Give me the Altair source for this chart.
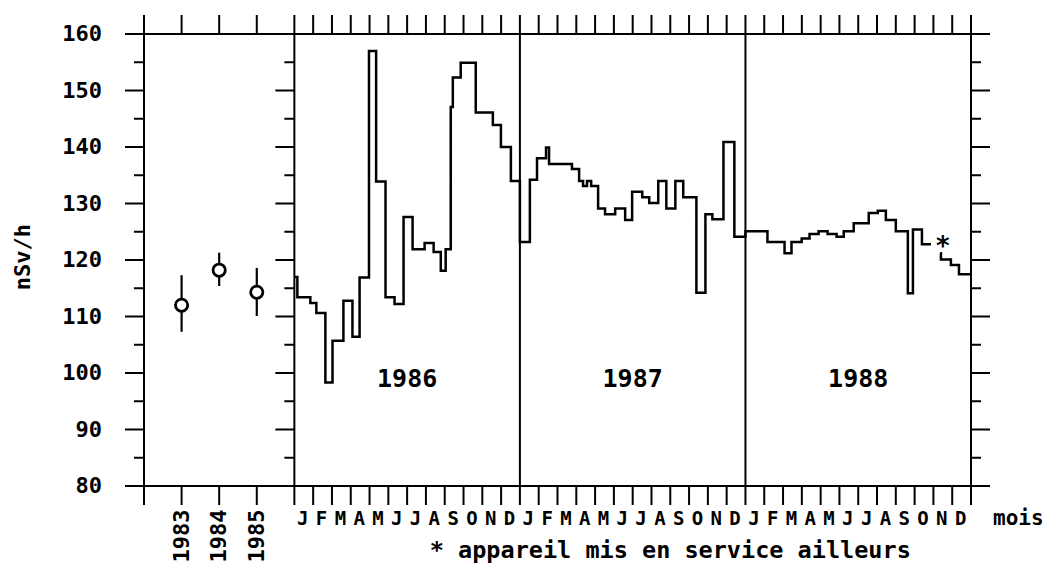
import altair as alt
import pandas as pd

# ---------------- data ----------------
y_major = [80, 90, 100, 110, 120, 130, 140, 150, 160]
y_minor = [85, 95, 105, 115, 125, 135, 145, 155]
x_ticks = [-8, -6, -4, -2] + list(range(0, 37))
dividers = [0, 12, 24]

month_letters = ["J", "F", "M", "A", "M", "J", "J", "A", "S", "O", "N", "D"]
year_text = ["1986", "1987", "1988"]
year_text_x = [6, 18, 30]
year_text_y = [99, 99, 99]

prior_years = ["1983", "1984", "1985"]
prior_x = [-6, -4, -2]
prior_val = [112.0, 118.2, 114.3]
prior_lo = [107.3, 115.4, 110.1]
prior_hi = [117.3, 121.3, 118.6]

# monthly step series (months since Jan 1986)
t86 = [0.00, 0.16, 0.85, 1.17, 1.65, 2.03, 2.61, 3.09, 3.47, 3.97, 4.35, 4.85, 5.33,
       5.81, 6.29, 6.93, 7.41, 7.79, 8.05, 8.32, 8.43, 8.85, 9.65, 10.56, 10.99, 11.52]
v86 = [117.0, 113.4, 112.4, 110.6, 98.3, 105.7, 112.8, 106.4, 116.9, 157.0, 133.9, 113.4, 112.2,
       127.6, 121.9, 123.0, 121.4, 118.1, 121.9, 147.1, 152.3, 154.9, 146.1, 143.9, 140.0, 134.0]
t87 = [12.00, 12.53, 12.91, 13.39, 13.55, 14.77, 15.15, 15.36, 15.57, 15.79, 16.16, 16.53, 17.07,
       17.60, 17.97, 18.51, 18.88, 19.36, 19.79, 20.27, 20.69, 21.39, 21.87, 22.24, 22.83, 23.41]
v87 = [123.2, 134.2, 138.0, 139.9, 137.0, 136.1, 134.0, 133.1, 134.0, 133.1, 129.1, 128.1, 129.1,
       127.1, 132.1, 131.1, 130.1, 134.0, 129.1, 134.0, 131.1, 114.2, 128.1, 127.2, 140.9, 124.1]
t88a = [24.00, 25.17, 26.08, 26.45, 26.99, 27.41, 27.89, 28.37, 28.85, 29.23, 29.76, 30.56,
        31.04, 31.47, 32.00, 32.64, 32.91, 33.39, 33.87]
v88a = [125.1, 123.2, 121.2, 123.2, 123.8, 124.6, 125.1, 124.6, 124.1, 125.1, 126.5, 128.3,
        128.7, 127.1, 125.1, 114.1, 125.4, 122.8, 122.8]
t88b = [34.36, 34.40, 34.93, 35.36, 36.00]
v88b = [121.2, 120.1, 119.1, 117.5, 117.5]

star_x = [34.5]
star_y = [123.4]

y_title = "nSv/h"
x_unit = "mois"
footnote = "* appareil mis en service ailleurs"

# ---------------- chart ----------------
FONT = "DejaVu Sans Mono"
X = alt.Scale(domain=[-8, 36], nice=False, zero=False)
Y = alt.Scale(domain=[80, 160], nice=False, zero=False)


def xf(field):
    return alt.X(field, type="quantitative", scale=X, axis=None)


def yf(field):
    return alt.Y(field, type="quantitative", scale=Y, axis=None)


def xd(v):
    return alt.XDatum(v, type="quantitative", scale=X, axis=None)


def yd(v):
    return alt.YDatum(v, type="quantitative", scale=Y, axis=None)


line_df = pd.DataFrame({
    "t": t86 + t87 + t88a + t88b,
    "v": v86 + v87 + v88a + v88b,
    "seg": ["a"] * (len(t86) + len(t87) + len(t88a)) + ["b"] * len(t88b),
})
line = alt.Chart(line_df).mark_line(
    interpolate="step-after", color="black", strokeWidth=2.5
).encode(x=xf("t"), y=yf("v"), detail="seg:N")

div = alt.Chart(pd.DataFrame({"x": dividers})).mark_rule(
    color="black", strokeWidth=2
).encode(x=xf("x"))

ymaj_df = pd.DataFrame({"v": y_major})
ymin_df = pd.DataFrame({"v": y_minor})
xt_df = pd.DataFrame({"x": x_ticks})


def hticks(df, xpos, size, off):
    return alt.Chart(df).mark_tick(
        orient="horizontal", size=size, thickness=2, color="black", xOffset=off, opacity=1
    ).encode(x=xd(xpos), y=yf("v"))


def vticks(ypos, off):
    return alt.Chart(xt_df).mark_tick(
        orient="vertical", size=19, thickness=2, color="black", yOffset=off, opacity=1
    ).encode(x=xf("x"), y=yd(ypos))


ticks = [
    hticks(ymaj_df, -8, 19, -9.5), hticks(ymin_df, -8, 10, -5),
    hticks(ymaj_df, 0, 19, -9.5), hticks(ymin_df, 0, 10, -5),
    hticks(ymaj_df, 36, 19, 9.5), hticks(ymin_df, 36, 10, 5),
    vticks(160, -9.5), vticks(80, 9.5),
]

ylab = alt.Chart(pd.DataFrame({"v": y_major, "lab": [str(v) for v in y_major]})).mark_text(
    font=FONT, fontSize=22, fontWeight="bold", align="right", baseline="middle",
    xOffset=-42, color="black"
).encode(x=xd(-8), y=yf("v"), text="lab:N")

ytitle = alt.Chart(pd.DataFrame({"t": [y_title]})).mark_text(
    font=FONT, fontSize=22, fontWeight="bold", angle=270, align="center",
    baseline="middle", xOffset=-121, color="black"
).encode(x=xd(-8), y=yd(120.5), text="t:N")

mdf = pd.DataFrame({
    "x": [i + 0.5 for i in range(36)],
    "lab": [month_letters[i % 12] for i in range(36)],
})
mlab = alt.Chart(mdf).mark_text(
    font=FONT, fontSize=19, fontWeight="bold", align="center", baseline="middle",
    yOffset=33, xOffset=-1, color="black"
).encode(x=xf("x"), y=yd(80), text="lab:N")

plab = alt.Chart(pd.DataFrame({"x": prior_x, "lab": prior_years})).mark_text(
    font=FONT, fontSize=22, fontWeight="bold", angle=270, align="center",
    baseline="middle", yOffset=50, color="black"
).encode(x=xf("x"), y=yd(80), text="lab:N")

unit = alt.Chart(pd.DataFrame({"t": [x_unit]})).mark_text(
    font=FONT, fontSize=21, fontWeight="bold", align="left", baseline="middle",
    xOffset=22, yOffset=33, color="black"
).encode(x=xd(36), y=yd(80), text="t:N")

foot = alt.Chart(pd.DataFrame({"t": [footnote]})).mark_text(
    font=FONT, fontSize=23.5, fontWeight="bold", align="center", baseline="alphabetic",
    yOffset=72, color="black"
).encode(x=xd(20), y=yd(80), text="t:N")

yrs = alt.Chart(pd.DataFrame({"x": year_text_x, "y": year_text_y, "t": year_text})).mark_text(
    font=FONT, fontSize=25, fontWeight="bold", align="center", baseline="middle", color="black"
).encode(x=xf("x"), y=yf("y"), text="t:N")

star = alt.Chart(pd.DataFrame({"x": star_x, "y": star_y, "t": ["*"] * len(star_x)})).mark_text(
    font=FONT, fontSize=26, fontWeight="bold", align="center", baseline="middle",
    dy=6, color="black"
).encode(x=xf("x"), y=yf("y"), text="t:N")

prior_df = pd.DataFrame({"x": prior_x, "v": prior_val, "lo": prior_lo, "hi": prior_hi})
ebar = alt.Chart(prior_df).mark_rule(color="black", strokeWidth=2.2).encode(
    x=xf("x"), y=yf("lo"), y2="hi:Q"
)
pts = alt.Chart(prior_df).mark_point(
    shape="circle", filled=True, fill="white", stroke="black", strokeWidth=2.8,
    size=150, opacity=1
).encode(x=xf("x"), y=yf("v"))

chart = alt.layer(
    div, *ticks, line, ebar, pts, ylab, ytitle, mlab, plab, unit, foot, yrs, star
).properties(
    width=827, height=452,
    autosize=alt.AutoSizeParams(type="none"),
    padding={"left": 136, "top": 26, "right": 80, "bottom": 80},
).configure_view(stroke="black", strokeWidth=2)

chart.save("out.html", embed_options={"renderer": "svg", "actions": False})
